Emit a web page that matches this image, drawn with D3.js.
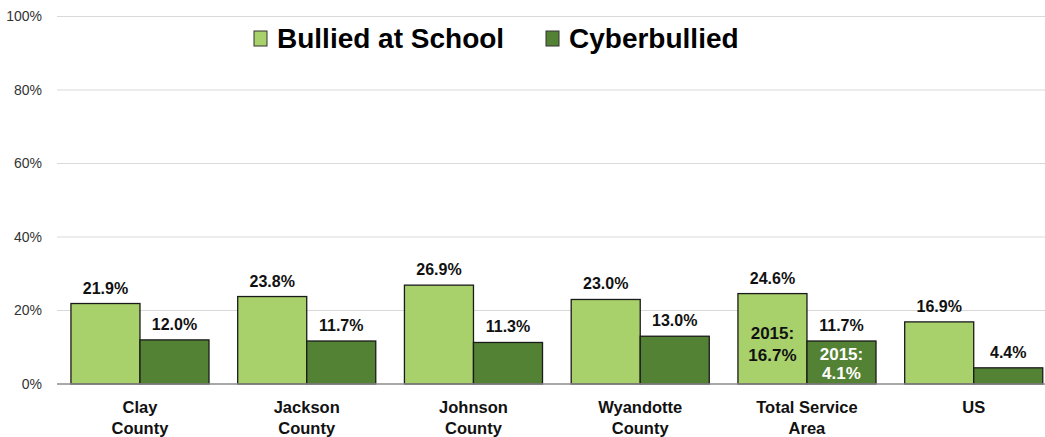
<!DOCTYPE html>
<html><head><meta charset="utf-8">
<script src="https://cdn.jsdelivr.net/npm/d3@7"></script>
<style>body{margin:0;background:#fff}svg{display:block;font-family:Arial,"Liberation Sans",sans-serif}</style>
</head><body><svg id="c" width="1045" height="437"></svg>
<script>
const categories = [["Clay","County"],["Jackson","County"],["Johnson","County"],["Wyandotte","County"],["Total Service","Area"],["US"]];
const seriesNames = ["Bullied at School","Cyberbullied"];
const bulliedAtSchool = [21.9, 23.8, 26.9, 23.0, 24.6, 16.9];
const cyberbullied = [12.0, 11.7, 11.3, 13.0, 11.7, 4.4];
const yTicks = [0, 20, 40, 60, 80, 100];
const notes2015 = [{cat:4, series:0, lines:["2015:","16.7%"]},{cat:4, series:1, lines:["2015:","4.1%"]}];
const colors = ["#a9d16b","#548235"];

const svg = d3.select("#c");
const keys = categories.map(c=>c.join(" "));
const x = d3.scaleBand().domain(keys).range([56.6, 1057.1]).paddingInner(0.172).paddingOuter(0.086);
const xs = d3.scaleBand().domain([0,1]).range([0, x.bandwidth()]);
const y = d3.scaleLinear().domain([0,100]).range([384, 16.5]);

// grid
svg.append("g").selectAll("line").data(yTicks.filter(t=>t>0)).join("line")
  .attr("x1",57).attr("x2",1045).attr("y1",d=>y(d)).attr("y2",d=>y(d))
  .attr("stroke","#d9d9d9").attr("stroke-width",1.2);
// y axis labels
const yAxis = d3.axisLeft(y).tickValues(yTicks).tickFormat(d=>d+"%").tickSize(0).tickPadding(0);
const ga = svg.append("g").attr("transform","translate(42,0)").call(yAxis);
ga.select(".domain").remove();
ga.selectAll("text").attr("font-size",14).attr("fill","#333").attr("font-family","Arial, 'Liberation Sans', sans-serif");

const series = [bulliedAtSchool, cyberbullied];
const g = svg.append("g");
series.forEach((vals,si)=>{
  g.selectAll(null).data(vals).join("rect")
    .attr("x",(d,i)=>x(keys[i])+xs(si)).attr("width",xs.bandwidth())
    .attr("y",d=>y(d)).attr("height",d=>y(0)-y(d))
    .attr("fill",colors[si]).attr("stroke","#1a1a1a").attr("stroke-width",1.3);
  g.selectAll(null).data(vals).join("text")
    .attr("x",(d,i)=>x(keys[i])+xs(si)+xs.bandwidth()/2).attr("y",d=>y(d)-10)
    .attr("text-anchor","middle").attr("font-size",16).attr("font-weight","bold").attr("fill","#111")
    .text(d=>d.toFixed(1)+"%");
});
// baseline
svg.append("line").attr("x1",57).attr("x2",1045).attr("y1",y(0)).attr("y2",y(0)).attr("stroke","#8c8c8c").attr("stroke-width",1.3);

// 2015 notes
const noteY = [[339,361],[360,379]];
notes2015.forEach(n=>{
  const cx = x(keys[n.cat])+xs(n.series)+xs.bandwidth()/2;
  n.lines.forEach((t,li)=>{
    svg.append("text").attr("x",cx).attr("y",noteY[n.series][li]).attr("text-anchor","middle")
      .attr("font-size",17).attr("font-weight","bold").attr("fill",n.series===0?"#111":"#fff").text(t);
  });
});

// category labels
const cl = svg.append("g");
categories.forEach((c,i)=>{
  const t = cl.append("text").attr("x",x(keys[i])+x.bandwidth()/2).attr("y",413)
    .attr("text-anchor","middle").attr("font-size",16.5).attr("font-weight","bold").attr("fill","#111");
  c.forEach((line,li)=>t.append("tspan").attr("x",x(keys[i])+x.bandwidth()/2).attr("dy",li?20.5:0).text(line));
});

// legend
const legX = [254, 546];
seriesNames.forEach((s,i)=>{
  svg.append("rect").attr("x",legX[i]).attr("y",31).attr("width",13).attr("height",15)
    .attr("fill",colors[i]).attr("stroke","#333").attr("stroke-width",1);
  svg.append("text").attr("x",legX[i]+23).attr("y",48).attr("font-size",28).attr("font-weight","bold").attr("fill","#000").text(s);
});
</script></body></html>
